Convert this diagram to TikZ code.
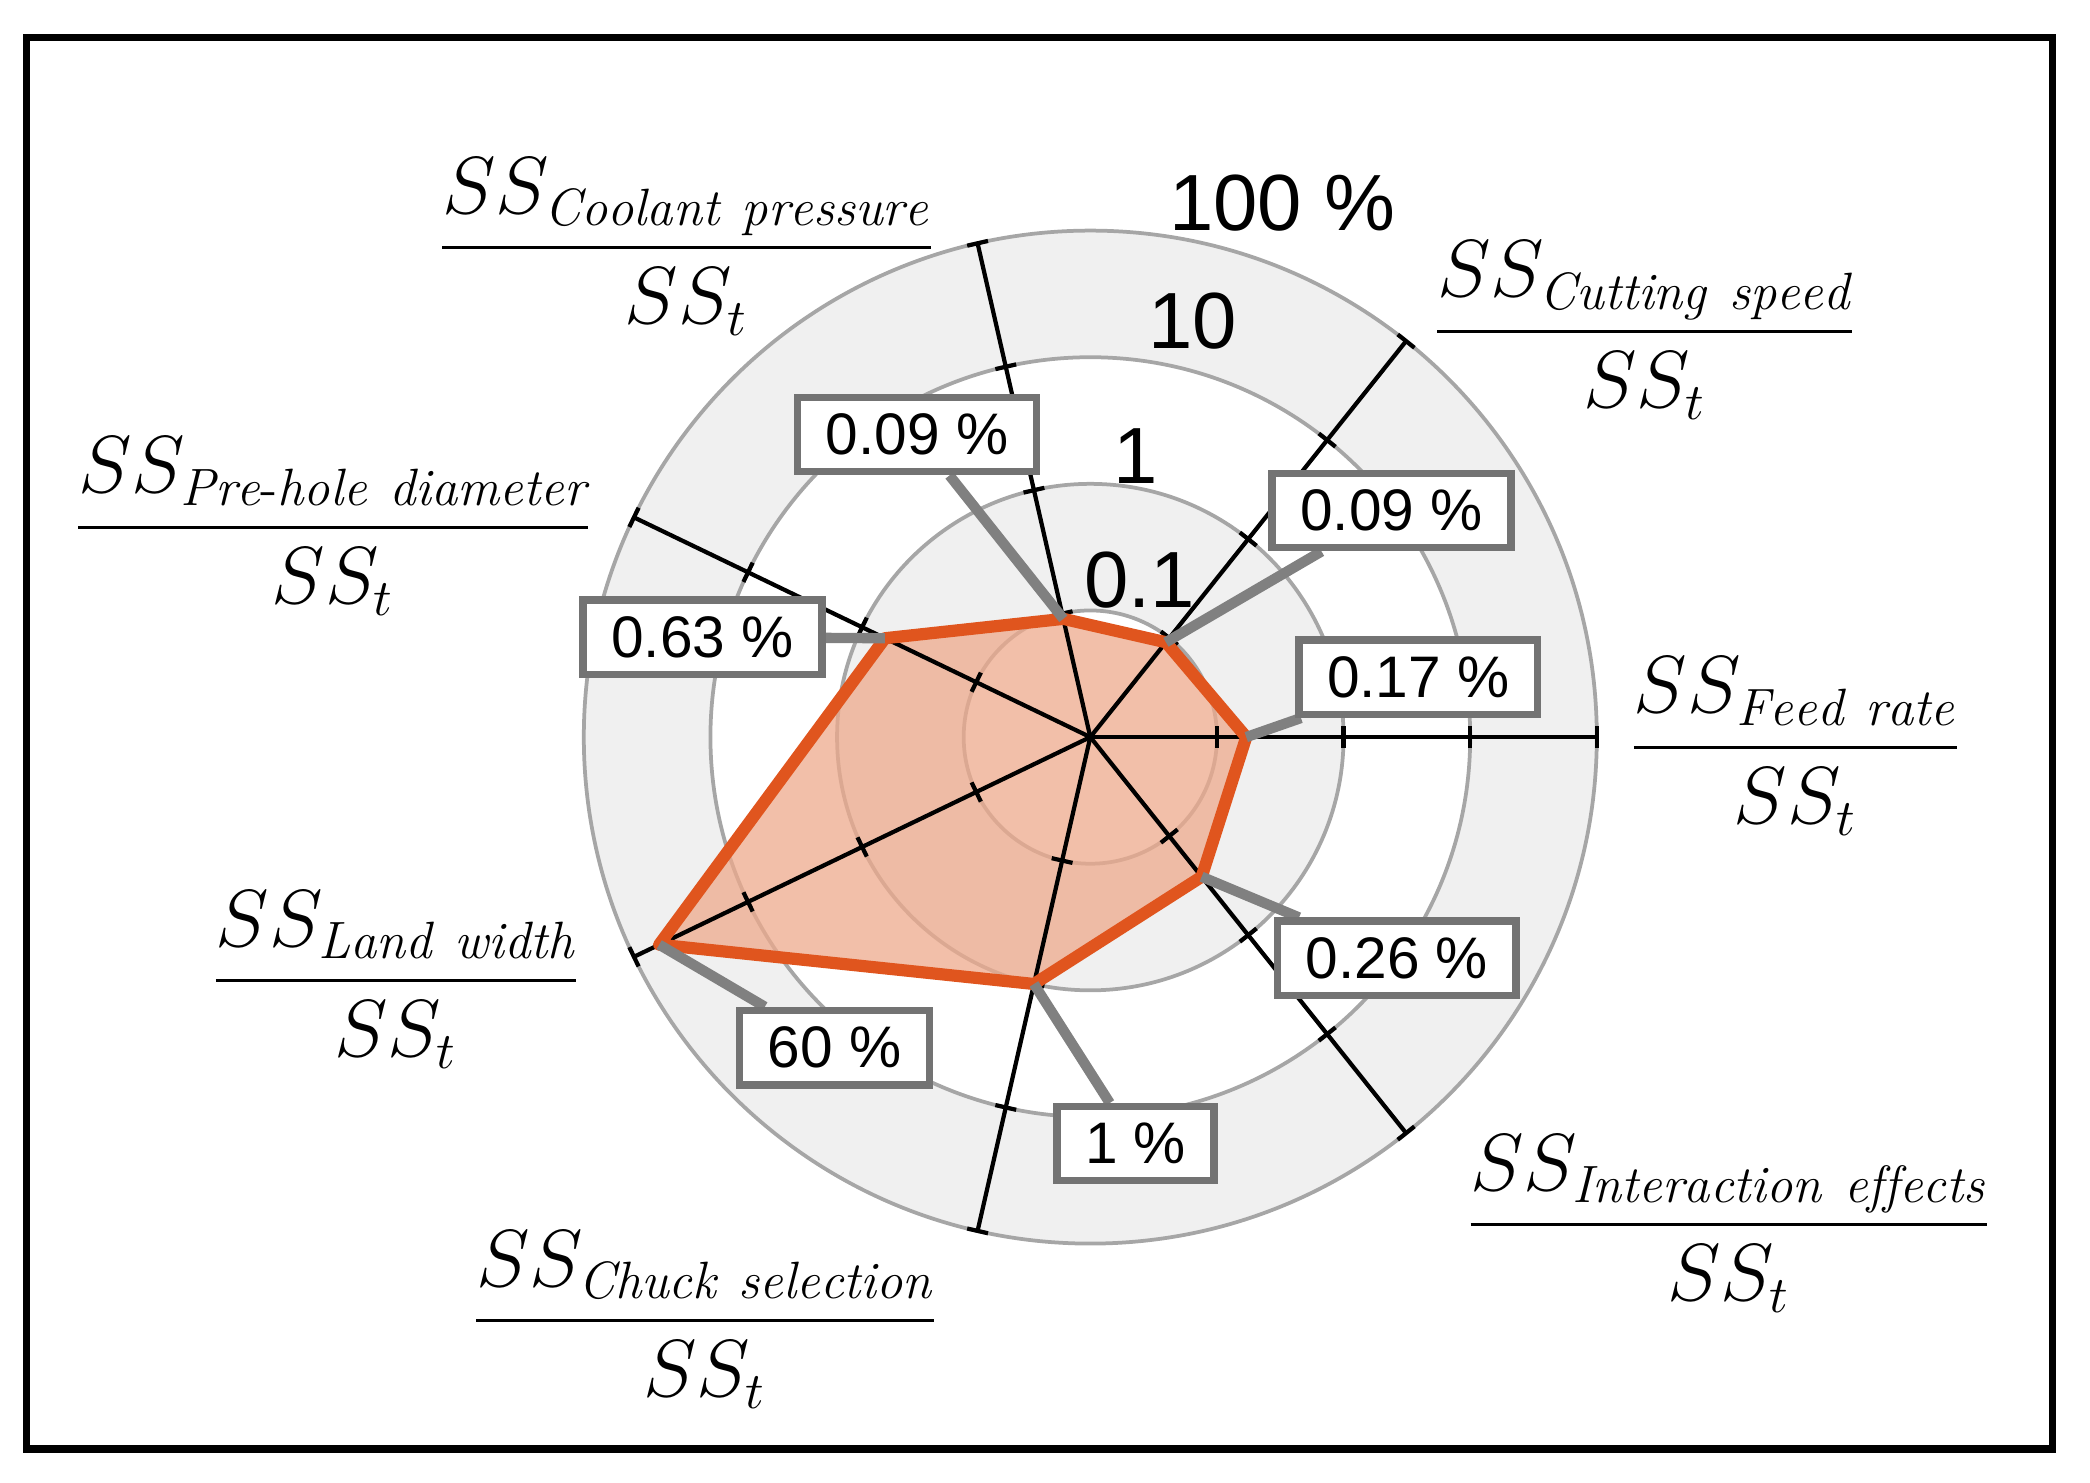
\documentclass[tikz,border=0pt]{standalone}
\usepackage{amsmath}
\usepackage{fontspec}
\newfontfamily\sansf{Liberation Sans}
\pgfdeclarelayer{chart}
\pgfdeclarelayer{leads}
\pgfsetlayers{chart,leads,main}
\begin{document}
\begin{tikzpicture}[x=0.01cm,y=0.01cm,
  box/.style={draw=black!55,line width=1.6pt,fill=white,font=\sansf\fontsize{12.5}{15}\selectfont,inner xsep=6pt,inner ysep=3.5pt},
  lead/.style={draw=black!50,line width=2.2pt},
  frac/.style={font=\fontsize{16}{20}\selectfont},
  ring/.style={font=\sansf\fontsize{17}{20}\selectfont}]
\useasboundingbox (0,0) rectangle (1568,-1112);
\draw[line width=1.6pt] (20,-28) rectangle (1540,-1087);
\begin{pgfonlayer}{chart}
\begin{scope}[shift={(818,-553)}]
\fill[black!6,even odd rule] (0,0) circle (380) (0,0) circle (285);
\fill[black!6,even odd rule] (0,0) circle (190) (0,0) circle (95);
\foreach \r in {95,190,285,380} \draw[black!35,line width=0.8pt] (0,0) circle (\r);
\coordinate (p1) at (0:117);
\coordinate (p2) at (51.43:91);
\coordinate (p3) at (102.86:91);
\coordinate (p4) at (154.29:171);
\coordinate (p5) at (205.71:359);
\coordinate (p6) at (257.14:190);
\coordinate (p7) at (308.57:134);
\fill[fill={rgb,255:red,238;green,170;blue,140},opacity=0.75] (p1)--(p2)--(p3)--(p4)--(p5)--(p6)--(p7)--cycle;
\foreach \a in {0,51.43,102.86,154.29,205.71,257.14,308.57}{
  \draw[line width=0.9pt] (0,0) -- (\a:380);
  \foreach \r in {95,190,285,380} \draw[line width=0.9pt,rotate=\a] (\r,-8)--(\r,8);
}
\draw[color={rgb,255:red,224;green,85;blue,30},line width=2.6pt,line join=round] (p1)--(p2)--(p3)--(p4)--(p5)--(p6)--(p7)--cycle;
\end{scope}
\end{pgfonlayer}
\node[ring] (r100) at (962,-152) {100 \%};
\node[ring] (r10) at (895,-241) {10};
\node[ring] (r1) at (852,-342) {1};
\node[ring] (r01) at (855,-435) {0.1};
\node[box] (b3) at (688,-326) {0.09 \%};
\node[box] (b2) at (1044,-383) {0.09 \%};
\node[box] (b1) at (1064,-508) {0.17 \%};
\node[box] (b4) at (527,-478) {0.63 \%};
\node[box] (b7) at (1048,-719) {0.26 \%};
\node[box] (b5) at (626,-786) {60 \%};
\node[box] (b6) at (852,-858) {1 \%};
\begin{pgfonlayer}{leads}
\draw[lead] (p3) -- (b3);
\draw[lead] (p2) -- (b2);
\draw[lead] (p1) -- (b1);
\draw[lead] (p4) -- (b4);
\draw[lead] (p7) -- (b7);
\draw[lead] (p5) -- (b5);
\draw[lead] (p6) -- (b6);
\end{pgfonlayer}
\node[frac] (f1) at (515,-185) {$\dfrac{SS_{\mathit{Coolant\ pressure}}}{SS_t}$};
\node[frac] (f2) at (1234,-248) {$\dfrac{SS_{\mathit{Cutting\ speed}}}{SS_t}$};
\node[frac] (f3) at (250,-395) {$\dfrac{SS_{\mathit{Pre\text{-}hole\ diameter}}}{SS_t}$};
\node[frac] (f4) at (1347,-560) {$\dfrac{SS_{\mathit{Feed\ rate}}}{SS_t}$};
\node[frac] (f5) at (297,-735) {$\dfrac{SS_{\mathit{Land\ width}}}{SS_t}$};
\node[frac] (f6) at (529,-990) {$\dfrac{SS_{\mathit{Chuck\ selection}}}{SS_t}$};
\node[frac] (f7) at (1297,-918) {$\dfrac{SS_{\mathit{Interaction\ effects}}}{SS_t}$};
\end{tikzpicture}
\end{document}
